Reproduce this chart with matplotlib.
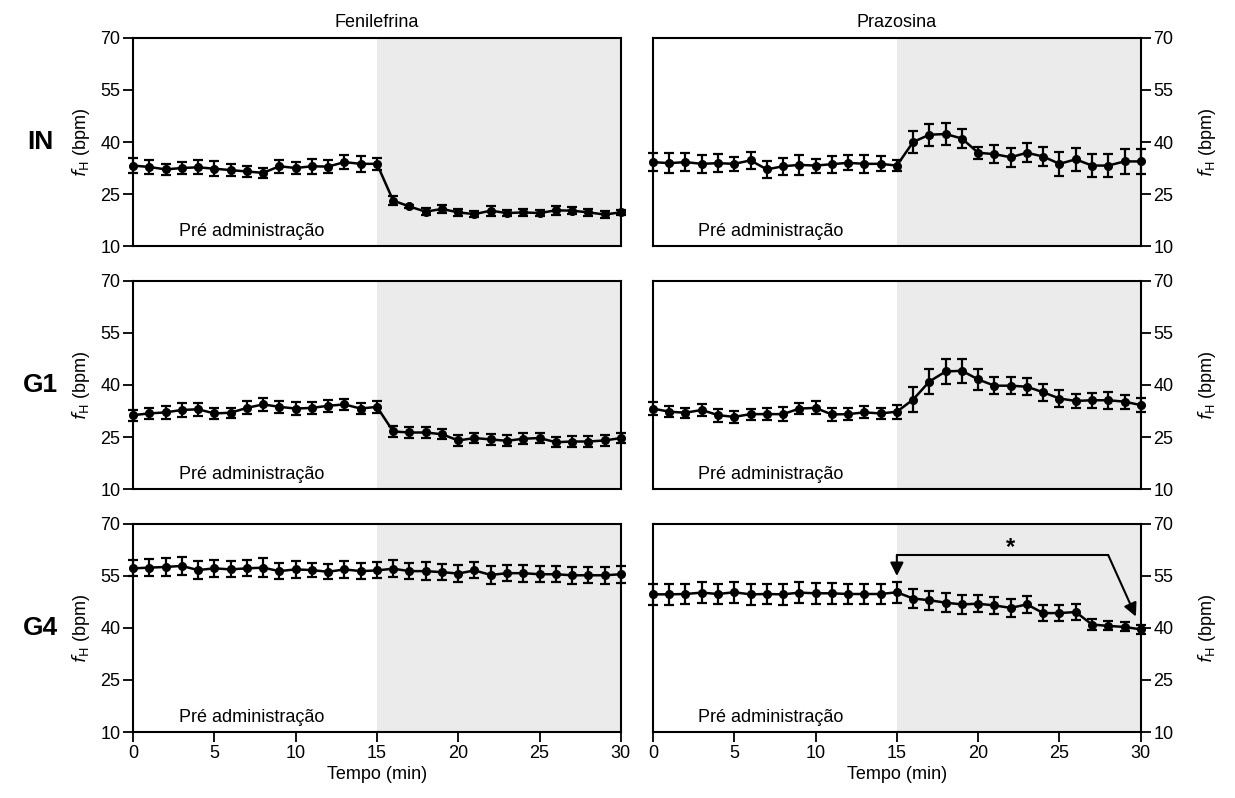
import numpy as np
import matplotlib
matplotlib.use("Agg")
import matplotlib.pyplot as plt

plt.rcParams["font.family"] = ["Liberation Sans", "DejaVu Sans"]

tempo = np.arange(0, 31)

# IN
in_fen = [33.2, 32.8, 32.1, 32.5, 32.7, 32.3, 31.9, 31.5, 31.1, 33.0, 32.5, 33.0, 32.9, 34.2, 33.7, 33.7,
          23.1, 21.4, 19.9, 20.7, 19.7, 19.2, 20.2, 19.5, 19.7, 19.5, 20.3, 20.2, 19.7, 19.1, 19.7]
in_fen_err = [2.2, 2.0, 1.7, 1.8, 2.0, 2.1, 1.7, 1.7, 1.5, 1.9, 1.8, 2.2, 1.8, 2.1, 2.3, 1.8,
              1.4, 0.5, 1.0, 1.2, 1.0, 0.8, 1.4, 0.9, 1.0, 0.9, 1.3, 1.0, 1.0, 0.9, 0.8]
in_pra = [34.2, 33.9, 34.2, 33.7, 33.9, 33.7, 34.7, 32.1, 33.0, 33.4, 33.2, 33.6, 34.0, 33.7, 33.7, 33.2,
          40.0, 42.1, 42.3, 41.0, 36.9, 36.5, 35.6, 36.9, 35.8, 33.7, 35.0, 33.2, 33.2, 34.4, 34.4]
in_pra_err = [2.5, 2.8, 2.5, 2.5, 2.5, 2.0, 2.5, 2.5, 2.5, 2.8, 2.0, 2.5, 2.2, 2.5, 2.2, 1.5,
              3.3, 3.2, 3.3, 2.8, 1.7, 2.5, 2.8, 2.8, 2.8, 3.5, 3.3, 3.2, 3.3, 3.5, 3.5]

# G1
g1_fen = [31.3, 31.8, 32.1, 32.8, 33.0, 31.8, 32.0, 33.4, 34.4, 33.7, 33.2, 33.4, 34.0, 34.4, 33.2, 33.7,
          26.6, 26.3, 26.3, 25.8, 24.0, 24.7, 24.3, 23.9, 24.5, 24.7, 23.5, 23.7, 23.7, 24.0, 24.7]
g1_fen_err = [1.6, 1.7, 1.9, 2.1, 1.8, 1.5, 1.5, 1.9, 1.8, 1.8, 1.9, 1.8, 1.8, 1.6, 1.6, 1.8,
              1.5, 1.7, 1.7, 1.4, 1.5, 1.5, 1.5, 1.6, 1.6, 1.5, 1.5, 1.5, 1.5, 1.5, 1.5]
g1_pra = [33.2, 32.3, 32.0, 32.8, 31.3, 30.8, 31.6, 31.6, 31.6, 33.2, 33.4, 31.5, 31.6, 32.1, 31.8, 32.3,
          35.8, 41.0, 43.9, 44.1, 41.6, 39.8, 39.8, 39.5, 37.9, 36.1, 35.4, 35.6, 35.6, 35.2, 34.2]
g1_pra_err = [1.8, 1.5, 1.5, 1.6, 1.9, 1.7, 1.6, 1.7, 2.0, 1.6, 1.9, 2.0, 1.8, 1.7, 1.5, 2.0,
              3.5, 3.5, 3.5, 3.5, 3.0, 2.5, 2.5, 2.5, 2.5, 2.5, 2.0, 2.2, 2.5, 2.0, 2.0]

# G4
g4_fen = [57.2, 57.4, 57.6, 57.9, 56.7, 57.2, 56.9, 57.2, 57.4, 56.4, 56.9, 56.7, 56.2, 56.9, 56.4, 56.6,
          57.1, 56.4, 56.4, 56.1, 55.7, 56.6, 55.3, 55.8, 55.8, 55.5, 55.5, 55.2, 55.2, 55.2, 55.5]
g4_fen_err = [2.3, 2.5, 2.5, 2.5, 2.5, 2.5, 2.3, 2.3, 2.8, 2.3, 2.5, 2.0, 2.2, 2.5, 2.3, 2.3,
              2.5, 2.3, 2.6, 2.3, 2.5, 2.3, 2.5, 2.3, 2.5, 2.3, 2.3, 2.5, 2.3, 2.5, 2.5]
g4_pra = [49.7, 49.7, 49.8, 50.2, 49.8, 50.3, 49.7, 49.8, 49.7, 50.2, 50.0, 50.0, 49.8, 49.8, 49.8, 50.3,
          48.5, 48.0, 47.3, 46.8, 47.0, 46.5, 45.8, 46.8, 44.3, 44.3, 44.6, 41.0, 40.6, 40.3, 39.6]
g4_pra_err = [3.0, 3.0, 3.0, 3.0, 3.0, 3.0, 3.0, 3.0, 3.0, 3.0, 3.0, 3.0, 3.0, 3.0, 3.0, 3.0,
              2.8, 2.8, 2.7, 2.7, 2.5, 2.5, 2.5, 2.5, 2.3, 2.2, 2.3, 1.5, 1.3, 1.3, 1.3]

grupos = ["IN", "G1", "G4"]
colunas = ["Fenilefrina", "Prazosina"]
series = [[(in_fen, in_fen_err), (in_pra, in_pra_err)],
          [(g1_fen, g1_fen_err), (g1_pra, g1_pra_err)],
          [(g4_fen, g4_fen_err), (g4_pra, g4_pra_err)]]

fig = plt.figure(figsize=(12.35, 7.98), dpi=100)
lefts = [0.1077, 0.5287]
bottoms = [0.6917, 0.3872, 0.0827]
w, h = 0.395, 0.2607
ylabel = r"$f_\mathrm{H}$ (bpm)"

for r in range(3):
    for c in range(2):
        ax = fig.add_axes([lefts[c], bottoms[r], w, h])
        y, e = series[r][c]
        ax.axvspan(15, 30, color="#ebebeb", lw=0, zorder=0)
        ax.errorbar(tempo, y, yerr=e, color="black", lw=1.8, marker="o", ms=5.5,
                    capsize=3.5, elinewidth=1.6, capthick=1.6, zorder=3, clip_on=False)
        ax.set_xlim(0, 30)
        ax.set_ylim(10, 70)
        ax.set_yticks([10, 25, 40, 55, 70])
        ax.set_xticks([0, 5, 10, 15, 20, 25, 30])
        for s in ax.spines.values():
            s.set_linewidth(1.5)
        ax.tick_params(axis="both", direction="out", length=7, width=1.3, pad=2, labelsize=13)
        if r < 2:
            ax.tick_params(axis="x", bottom=False, labelbottom=False)
        else:
            ax.set_xlabel("Tempo (min)", fontsize=13, labelpad=3)
        if c == 1:
            ax.yaxis.tick_right()
            ax.yaxis.set_label_position("right")
            ax.set_ylabel(ylabel, fontsize=13, labelpad=16, rotation=90)
        else:
            ax.set_ylabel(ylabel, fontsize=13, labelpad=6)
        ax.text(2.8, 14.3, "Pré administração", fontsize=13, ha="left", va="center")
        if r == 0:
            ax.set_title(colunas[c], fontsize=13, pad=8)
        if c == 0:
            fig.text(0.033, bottoms[r] + h * 0.5, grupos[r], fontsize=19, fontweight="bold",
                     ha="center", va="center")
        if r == 2 and c == 1:
            ax.plot([15, 28], [61, 61], color="black", lw=1.5, clip_on=False)
            ax.annotate("", xy=(15, 55), xytext=(15, 61),
                        arrowprops=dict(arrowstyle="-|>", color="black", lw=1.5,
                                        mutation_scale=20, shrinkA=0, shrinkB=0))
            ax.annotate("", xy=(29.7, 43.3), xytext=(28, 61),
                        arrowprops=dict(arrowstyle="-|>", color="black", lw=1.5,
                                        mutation_scale=20, shrinkA=0, shrinkB=0))
            ax.text(22.0, 63.3, "*", fontsize=17, fontweight="bold", ha="center", va="center")

fig.savefig("out.png", dpi=100)
